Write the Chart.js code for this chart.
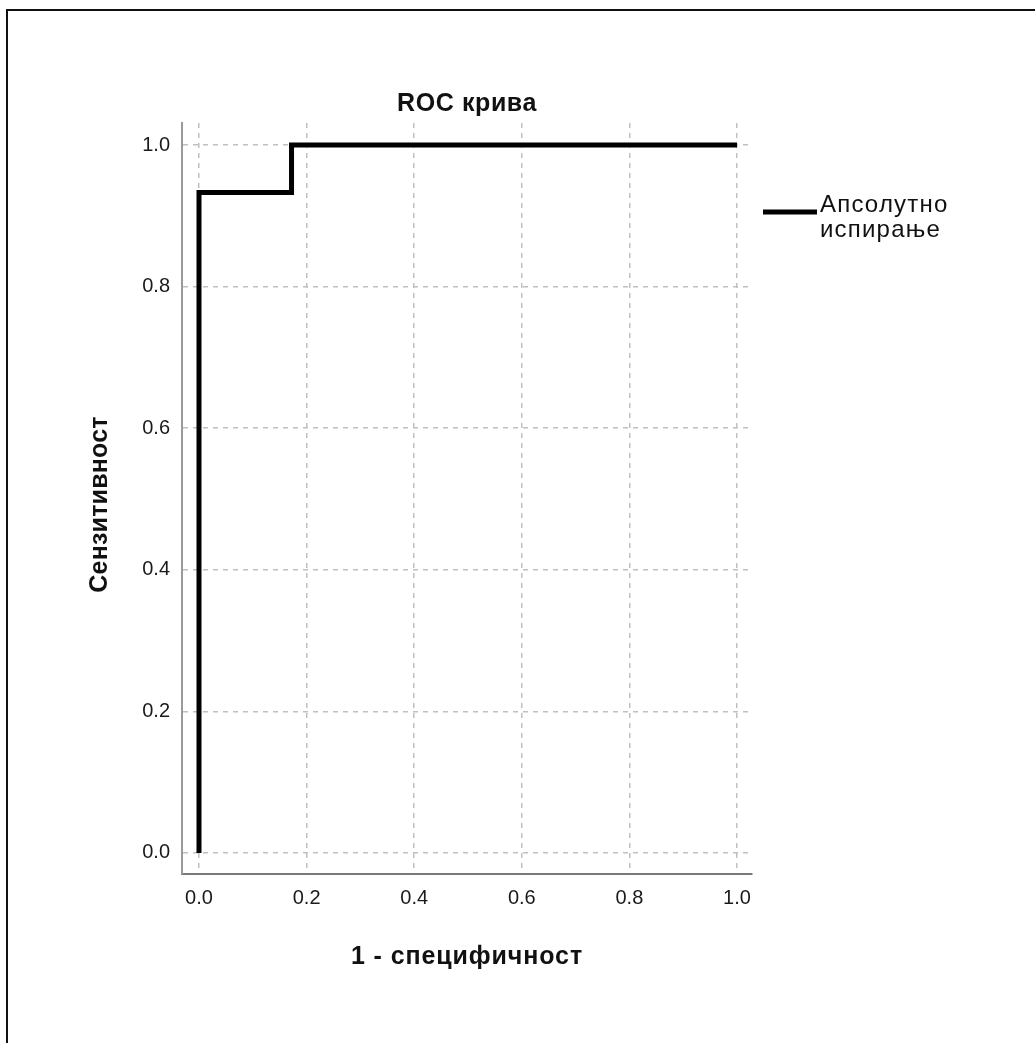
<!DOCTYPE html>
<html>
<head>
<meta charset="utf-8">
<script src="https://cdn.jsdelivr.net/npm/chart.js@4.4.1/dist/chart.umd.min.js"></script>
<style>
  html, body { margin: 0; padding: 0; background: #fff; }
  #wrap { width: 1035px; height: 1043px; }
</style>
</head>
<body>
<div id="wrap"><canvas id="roc" width="1035" height="1043"></canvas></div>
<script>
// Texts
const chartTitle = 'ROC крива';
const xAxisTitle = '1 - специфичност';
const yAxisTitle = 'Сензитивност';
const seriesLabel = ['Апсолутно', 'испирање'];

// ROC curve vertices (1 - specificity, sensitivity)
const falsePositiveRate = [0, 0, 0.172, 0.172, 1];
const truePositiveRate = [0, 0.933, 0.933, 1, 1];

// Axis ticks
const tickValues = [0, 0.2, 0.4, 0.6, 0.8, 1.0];
const tickLabels = ['0.0', '0.2', '0.4', '0.6', '0.8', '1.0'];

const FONT = "'Liberation Sans', Arial, sans-serif";

const points = falsePositiveRate.map((x, i) => ({ x, y: truePositiveRate[i] }));

function fixTicks(scale) {
  scale.ticks = tickValues.map(v => ({ value: v }));
}
function fmt(value) {
  const i = tickValues.indexOf(value);
  return i >= 0 ? tickLabels[i] : '';
}

// Frame, titles and legend drawn around the plot
const decorations = {
  id: 'decorations',
  beforeDraw(chart) {
    const ctx = chart.ctx;
    ctx.save();
    ctx.fillStyle = '#fff';
    ctx.fillRect(0, 0, chart.width, chart.height);
    ctx.strokeStyle = '#111';
    ctx.lineWidth = 2;
    ctx.strokeRect(7, 10, chart.width + 20, chart.height + 20);
    ctx.restore();
  },
  afterDraw(chart) {
    const ctx = chart.ctx;
    const area = chart.chartArea;
    const cx = (area.left + area.right) / 2;
    ctx.save();
    ctx.fillStyle = '#111';
    ctx.textBaseline = 'alphabetic';

    // chart title
    ctx.font = 'bold 25px ' + FONT;
    ctx.letterSpacing = '0.6px';
    ctx.textAlign = 'center';
    ctx.fillText(chartTitle, cx, 111);

    // x axis title
    ctx.font = 'bold 25px ' + FONT;
    ctx.letterSpacing = '0.9px';
    ctx.fillText(xAxisTitle, cx, 964);

    // y axis title (rotated)
    ctx.save();
    ctx.letterSpacing = '0.2px';
    ctx.translate(107, (area.top + area.bottom) / 2 + 6);
    ctx.rotate(-Math.PI / 2);
    ctx.fillText(yAxisTitle, 0, 0);
    ctx.restore();

    // legend
    const ds = chart.data.datasets[0];
    ctx.strokeStyle = ds.borderColor;
    ctx.lineWidth = ds.borderWidth;
    ctx.beginPath();
    ctx.moveTo(763, 212);
    ctx.lineTo(817, 212);
    ctx.stroke();
    ctx.font = '24px ' + FONT;
    ctx.letterSpacing = '1.2px';
    ctx.textAlign = 'left';
    ctx.fillText(ds.label[0], 820, 212);
    ctx.fillText(ds.label[1], 820, 237);
    ctx.restore();
  }
};

new Chart(document.getElementById('roc'), {
  type: 'scatter',
  data: {
    datasets: [{
      label: seriesLabel,
      data: points,
      showLine: true,
      borderColor: '#000',
      borderWidth: 5,
      borderCapStyle: 'butt',
      borderJoinStyle: 'miter',
      pointRadius: 0,
      pointHoverRadius: 0,
      tension: 0,
      fill: false
    }]
  },
  options: {
    responsive: false,
    animation: false,
    events: [],
    layout: { padding: { top: 123, left: 0, right: 283, bottom: 0 } },
    plugins: {
      legend: { display: false },
      title: { display: false },
      tooltip: { enabled: false }
    },
    scales: {
      x: {
        type: 'linear',
        min: -0.0316,
        max: 1.0279,
        afterBuildTicks: fixTicks,
        afterFit(scale) { scale.height = 169; },
        grid: { color: '#c0c0c0', lineWidth: 1.5, drawTicks: false },
        border: { display: true, color: '#7a7a7a', width: 2, dash: [5, 5] },
        ticks: {
          callback: fmt,
          padding: 12,
          maxRotation: 0,
          autoSkip: false,
          color: '#1a1a1a',
          font: { family: FONT, size: 20 }
        }
      },
      y: {
        type: 'linear',
        min: -0.0297,
        max: 1.0311,
        afterBuildTicks: fixTicks,
        afterFit(scale) { scale.width = 182; },
        grid: { color: '#c0c0c0', lineWidth: 1.5, drawTicks: false },
        border: { display: true, color: '#999', width: 2, dash: [5, 5] },
        ticks: {
          callback: fmt,
          padding: 12,
          autoSkip: false,
          color: '#1a1a1a',
          font: { family: FONT, size: 20 }
        }
      }
    }
  },
  plugins: [decorations]
});
</script>
</body>
</html>
